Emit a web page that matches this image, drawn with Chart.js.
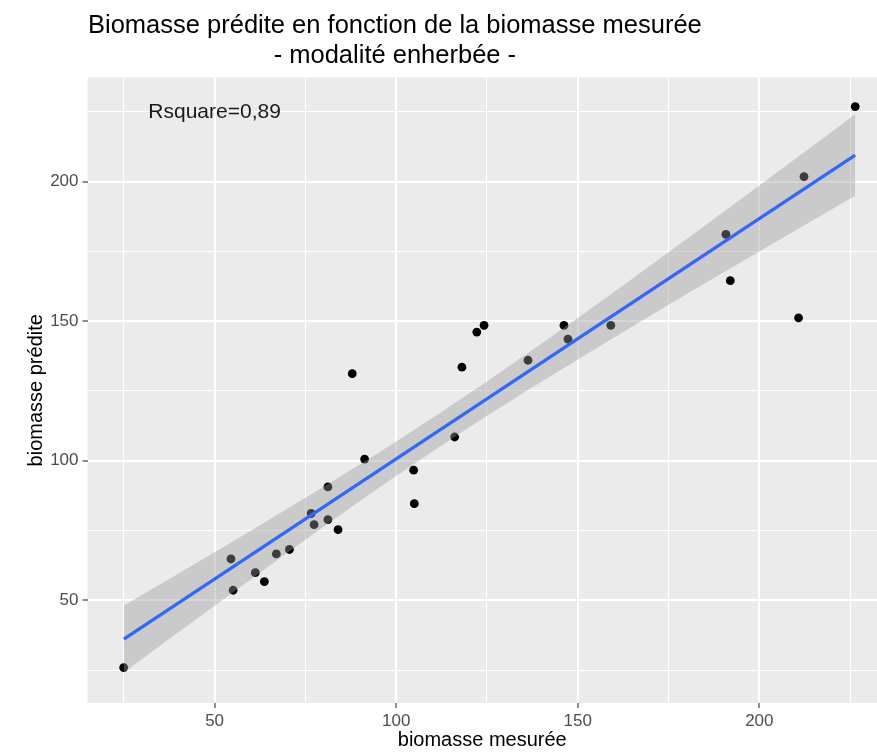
<!DOCTYPE html>
<html><head><meta charset="utf-8">
<script src="https://cdn.jsdelivr.net/npm/chart.js@4/dist/chart.umd.min.js"></script>
<style>html,body{margin:0;padding:0;background:#fff}#wrap{width:877px;height:753px;position:relative}</style>
</head><body><div id="wrap"><canvas id="c" width="877" height="753"></canvas></div>
<script>
const titleLines = ['Biomasse prédite en fonction de la biomasse mesurée', '- modalité enherbée -'];
const xAxisTitle = 'biomasse mesurée';
const yAxisTitle = 'biomasse prédite';
const annotationText = 'Rsquare=0,89';
const annotationPos = [50, 225];

const measured  = [24.96, 54.5, 55.1, 61.2, 63.7, 67.0, 70.6, 76.6, 77.4, 81.2, 81.2, 84.0, 87.9, 91.3, 104.8, 105.0, 116.1, 118.1, 122.2, 124.2, 136.3, 146.2, 147.3, 159.1, 190.8, 192.0, 210.8, 212.3, 226.4];
const predicted = [25.9, 64.8, 53.6, 59.9, 56.7, 66.6, 68.2, 81.1, 77.1, 90.6, 78.9, 75.3, 131.2, 100.6, 96.6, 84.6, 108.5, 133.5, 146.1, 148.5, 136.0, 148.5, 143.6, 148.5, 181.1, 164.5, 151.2, 201.8, 226.9];

const fitX = [25, 226.4];
const fitY = [36.1, 209.5];
const bandX     = [25, 50, 75, 100, 125, 150, 175, 200, 226.4];
const bandUpper = [48.1, 67.2, 86.7, 106.9, 128.4, 151.1, 174.7, 198.6, 224.1];
const bandLower = [24.1, 48.0, 71.7, 94.5, 116.1, 136.3, 155.9, 175.0, 194.9];

const xTicks = [25, 50, 75, 100, 125, 150, 175, 200, 225];
const yTicks = [25, 50, 75, 100, 125, 150, 175, 200, 225];
const tickLabels = [50, 100, 150, 200];

const FONT = '"Liberation Sans", Arial, Helvetica, sans-serif';
Chart.defaults.font.family = FONT;

const isMajor = v => tickLabels.includes(v);
const gridOpts = {
  color: c => '#FFFFFF',
  lineWidth: c => (c.tick && isMajor(c.tick.value)) ? 2 : 1,
  tickColor: c => (c.tick && isMajor(c.tick.value)) ? '#333333' : 'rgba(0,0,0,0)',
  tickLength: 5,
  tickWidth: 1.1
};

const panelBg = {
  id: 'panelBg',
  beforeDraw(chart) {
    const {ctx, chartArea: a} = chart;
    ctx.save();
    ctx.fillStyle = '#EBEBEB';
    ctx.fillRect(a.left, a.top, a.right - a.left, a.bottom - a.top);
    ctx.restore();
  }
};
const texts = {
  id: 'texts',
  afterDraw(chart) {
    const ctx = chart.ctx;
    ctx.save();
    ctx.fillStyle = '#000';
    ctx.font = '25.5px ' + FONT;
    ctx.textBaseline = 'alphabetic';
    const w1 = ctx.measureText(titleLines[0]).width;
    const left = 88;
    ctx.textAlign = 'left';
    ctx.fillText(titleLines[0], left, 33);
    ctx.textAlign = 'center';
    ctx.fillText(titleLines[1], left + w1 / 2, 63);
    const xs = chart.scales.x, ys = chart.scales.y;
    ctx.font = '21px ' + FONT;
    ctx.textBaseline = 'middle';
    ctx.fillStyle = '#1a1a1a';
    ctx.fillText(annotationText, xs.getPixelForValue(annotationPos[0]), ys.getPixelForValue(annotationPos[1]));
    ctx.restore();
  }
};

new Chart(document.getElementById('c'), {
  type: 'scatter',
  data: {
    datasets: [
      {type: 'line', label: 'fit', data: fitX.map((x, i) => ({x, y: fitY[i]})),
       borderColor: '#3366FF', borderWidth: 3.2, pointRadius: 0, fill: false, order: 1},
      {type: 'line', label: 'upper', data: bandX.map((x, i) => ({x, y: bandUpper[i]})),
       borderColor: 'rgba(0,0,0,0)', borderWidth: 0, pointRadius: 0,
       backgroundColor: 'rgba(153,153,153,0.4)', fill: '+1', cubicInterpolationMode: 'monotone', order: 2},
      {type: 'line', label: 'lower', data: bandX.map((x, i) => ({x, y: bandLower[i]})),
       borderColor: 'rgba(0,0,0,0)', borderWidth: 0, pointRadius: 0, fill: false, cubicInterpolationMode: 'monotone', order: 2},
      {type: 'scatter', label: 'points', data: measured.map((x, i) => ({x, y: predicted[i]})),
       pointRadius: 4.4, pointBackgroundColor: '#000', pointBorderWidth: 0, order: 3}
    ]
  },
  options: {
    responsive: false,
    animation: false,
    layout: {autoPadding: false, padding: {top: 77.5, left: 0, right: 0, bottom: 0}},
    plugins: {legend: {display: false}, tooltip: {enabled: false}},
    scales: {
      x: {
        type: 'linear', min: 15.0, max: 232.4,
        afterBuildTicks: s => { s.ticks = xTicks.map(v => ({value: v})); },
        afterFit: s => { s.height = 50; },
        grid: gridOpts,
        border: {display: false},
        ticks: {callback: v => isMajor(v) ? String(v) : '', color: '#4D4D4D', font: {size: 17}, padding: 3, maxRotation: 0, autoSkip: false},
        title: {display: true, text: xAxisTitle, color: '#000', font: {size: 20}, padding: {top: 0, bottom: 1}}
      },
      y: {
        type: 'linear', min: 13.2, max: 237.3,
        afterBuildTicks: s => { s.ticks = yTicks.map(v => ({value: v})); },
        afterFit: s => { s.width = 87.5; },
        grid: gridOpts,
        border: {display: false},
        ticks: {callback: v => isMajor(v) ? String(v) : '', color: '#4D4D4D', font: {size: 17}, padding: 4, autoSkip: false},
        title: {display: true, text: yAxisTitle, color: '#000', font: {size: 20}, padding: {top: 24, bottom: 0}}
      }
    }
  },
  plugins: [panelBg, texts]
});
</script></body></html>
